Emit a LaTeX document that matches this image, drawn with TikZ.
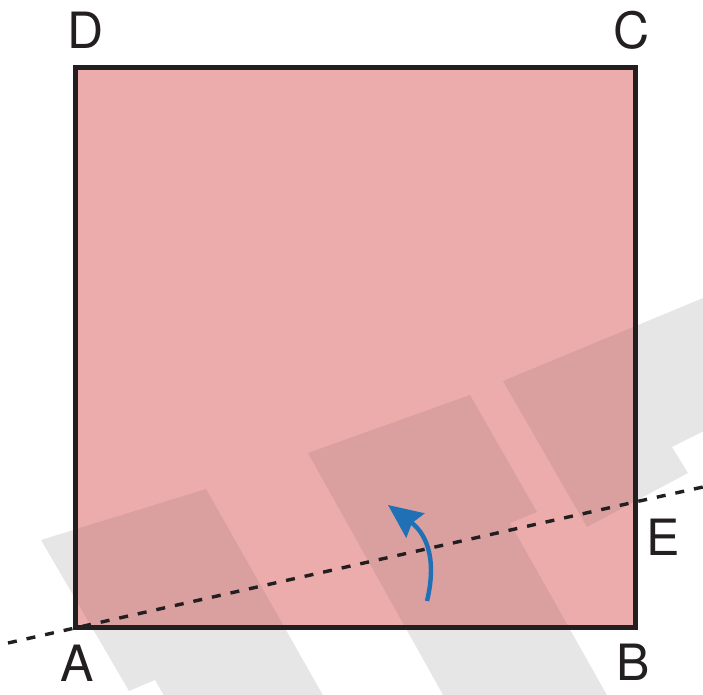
\documentclass[tikz,border=0pt]{standalone}
\usepackage{fontspec}
\setmainfont{TeX Gyre Heros}
\usetikzlibrary{arrows.meta}
\definecolor{sheetpink}{HTML}{ECACAB}
\definecolor{stripgray}{HTML}{E6E6E6}
\definecolor{overlappink}{HTML}{D9A09F}
\definecolor{arrowblue}{HTML}{1F70B5}
\definecolor{ink}{HTML}{231F20}
\tikzset{
  lbl/.style={font=\fontsize{25}{30}\selectfont, text=ink},
  foldline/.style={ink, line width=1.7pt, dash pattern=on 4.5pt off 5pt},
  squareedge/.style={ink, line width=2.5pt},
  turnarrow/.style={arrowblue, line width=2.2pt, -{Stealth[length=17pt,width=15pt,inset=2pt]}},
}
\begin{document}
\begin{tikzpicture}[x=0.5pt,y=-0.5pt]
  \clip (0,0) rectangle (703,695);
  \coordinate (A) at (75,628);
  \coordinate (B) at (635,628);
  \coordinate (C) at (635,68);
  \coordinate (D) at (75,68);
  \coordinate (E) at (635,502);
  \coordinate (foldL) at (8,643);
  \coordinate (foldR) at (703,487);
  \coordinate (arrS) at (427,601);
  \coordinate (arrT) at (388,505);
  % shadow strips
  \fill[stripgray] (41,540) -- (206,489) -- (337,720) -- (178,720) -- (155,680) -- (129,691) -- cycle;
  \fill[stripgray] (308,453) -- (470,395) -- (537,512) -- (510,523) -- (621,720) -- (457,720) -- cycle;
  \fill[stripgray] (503,381) -- (720,291) -- (720,423) -- (672,447) -- (688,473) -- (587,527) -- cycle;
  \fill[sheetpink] (A) rectangle (C);
  \begin{scope}
    \clip (A) rectangle (C);
    \fill[overlappink] (41,540) -- (206,489) -- (337,720) -- (178,720) -- (155,680) -- (129,691) -- cycle;
    \fill[overlappink] (308,453) -- (470,395) -- (537,512) -- (510,523) -- (621,720) -- (457,720) -- cycle;
    \fill[overlappink] (503,381) -- (720,291) -- (720,423) -- (672,447) -- (688,473) -- (587,527) -- cycle;
  \end{scope}
  \draw[squareedge] (A) -- (B) -- (C) -- (D) -- cycle;
  \draw[foldline] (foldL) -- (A) -- (E) -- (foldR);
  \draw[turnarrow] (arrS) .. controls (438,555) and (424,532) .. (arrT);
  \node[lbl] (labA) at (77,663) {A};
  \node[lbl] (labB) at (633,662) {B};
  \node[lbl] (labC) at (632,30) {C};
  \node[lbl] (labD) at (86,30) {D};
  \node[lbl] (labE) at (663,537) {E};
\end{tikzpicture}
\end{document}
